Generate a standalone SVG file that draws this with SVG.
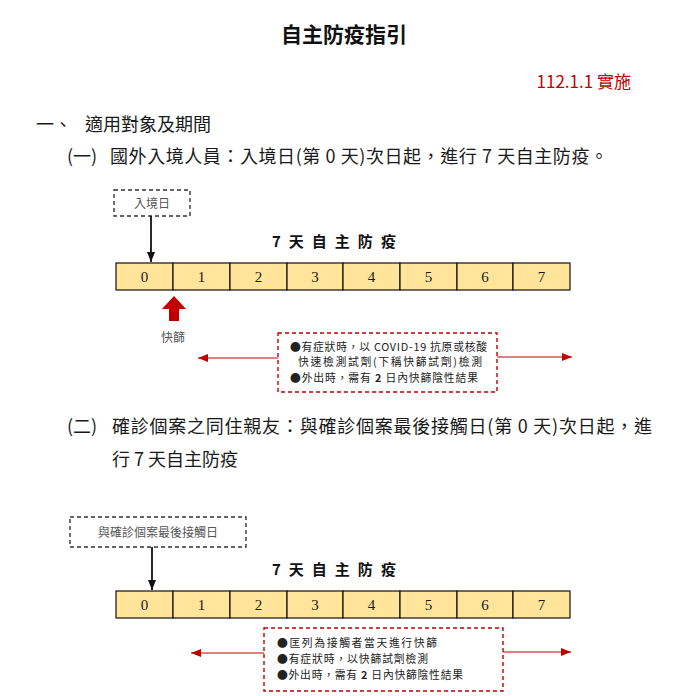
<svg xmlns="http://www.w3.org/2000/svg" width="687" height="696" viewBox="0 0 687 696" lang="zh-Hant-TW" xml:lang="zh-Hant-TW">
<defs>
<style>
.cjk{font-family:"Noto Sans CJK TC","Noto Sans CJK SC",sans-serif;}
.body{font-size:18px;fill:#1a1a1a;}
.small{font-size:12px;fill:#555;}
.note{font-size:10.8px;fill:#222;}
.num{font-family:"Liberation Serif","Times New Roman",serif;font-size:15px;fill:#1a1a1a;text-anchor:middle;}
.cell{fill:#FFE49A;stroke:#111;stroke-width:1.2;}
.dbox{fill:none;stroke:#333;stroke-width:1.4;stroke-dasharray:4 3;}
.rbox{fill:none;stroke:#c00000;stroke-width:1.4;stroke-dasharray:4 3;}
.black-line{stroke:#111;stroke-width:1.8;fill:none;}
.red-line{stroke:#c00000;stroke-width:1.1;fill:none;}
.seven{font-size:15px;font-weight:bold;fill:#111;letter-spacing:2.3px;}
</style>
<marker id="ah-black" viewBox="0 0 10 8" refX="10" refY="4" markerWidth="10" markerHeight="8" markerUnits="userSpaceOnUse" orient="auto"><path d="M0,0 L10,4 L0,8 z" fill="#111"/></marker>
<marker id="ah-red" viewBox="0 0 10 8" refX="10" refY="4" markerWidth="10" markerHeight="8" markerUnits="userSpaceOnUse" orient="auto"><path d="M0,0 L10,4 L0,8 z" fill="#c00000"/></marker>
</defs>
<rect width="687" height="696" fill="#ffffff"/>

<g id="title"><text class="cjk" x="344" y="42" font-size="21" font-weight="bold" fill="#111" text-anchor="middle">自主防疫指引</text></g>
<g id="date"><text class="cjk" x="631" y="88" font-size="17" fill="#c00000" text-anchor="end">112.1.1 實施</text></g>
<g id="heading">
<text class="cjk body" x="36" y="131">一、</text>
<text class="cjk body" x="85" y="131">適用對象及期間</text>
</g>
<g id="section1">
<text class="cjk body" x="67" y="163">(一)</text>
<text class="cjk body" x="110" y="163" textLength="498" lengthAdjust="spacing">國外入境人員：入境日(第 0 天)次日起，進行 7 天自主防疫。</text>
</g>

<g id="box-entry">
<rect class="dbox" x="114" y="190" width="76" height="26"/>
<text class="cjk small" x="152" y="208" text-anchor="middle">入境日</text>
</g>
<g id="label-7day-1"><text class="cjk seven" x="272" y="247">7 天 自 主 防 疫</text></g>
<g id="timeline1">
<rect class="cell" x="116" y="263" width="57" height="27"/>
<rect class="cell" x="173" y="263" width="57" height="27"/>
<rect class="cell" x="230" y="263" width="57" height="27"/>
<rect class="cell" x="287" y="263" width="56" height="27"/>
<rect class="cell" x="343" y="263" width="57" height="27"/>
<rect class="cell" x="400" y="263" width="57" height="27"/>
<rect class="cell" x="457" y="263" width="56" height="27"/>
<rect class="cell" x="513" y="263" width="57" height="27"/>
<text class="num" x="144.5" y="282">0</text>
<text class="num" x="201.5" y="282">1</text>
<text class="num" x="258.5" y="282">2</text>
<text class="num" x="315" y="282">3</text>
<text class="num" x="371.5" y="282">4</text>
<text class="num" x="428.5" y="282">5</text>
<text class="num" x="485" y="282">6</text>
<text class="num" x="541.5" y="282">7</text>
</g>
<g id="red-up-arrow"><polygon points="174,296 162,309 169,309 169,321 179,321 179,309 186,309" fill="#c00000"/></g>
<g id="label-kuaishai"><text class="cjk small" x="173" y="342" text-anchor="middle">快篩</text></g>
<g id="note1">
<rect class="rbox" x="278" y="333" width="219" height="59"/>
<text class="cjk note" x="290" y="350.5" textLength="197" lengthAdjust="spacing">●有症狀時，以 COVID-19 抗原或核酸</text>
<text class="cjk note" x="298" y="366.2" textLength="184" lengthAdjust="spacing">快速檢測試劑(下稱快篩試劑)檢測</text>
<text class="cjk note" x="290" y="381.9" textLength="188" lengthAdjust="spacing">●外出時，需有 <tspan font-weight="bold">2</tspan> 日內快篩陰性結果</text>
</g>

<g id="section2">
<text class="cjk body" x="67" y="433">(二)</text>
<text class="cjk body" x="112" y="433" textLength="540" lengthAdjust="spacing">確診個案之同住親友：與確診個案最後接觸日(第 0 天)次日起，進</text>
<text class="cjk body" x="112" y="466">行 7 天自主防疫</text>
</g>

<g id="box-contact">
<rect class="dbox" x="70" y="517" width="176" height="30"/>
<text class="cjk small" x="158" y="537" text-anchor="middle">與確診個案最後接觸日</text>
</g>
<g id="label-7day-2"><text class="cjk seven" x="272" y="575">7 天 自 主 防 疫</text></g>
<g id="timeline2">
<rect class="cell" x="116" y="591" width="57" height="27"/>
<rect class="cell" x="173" y="591" width="57" height="27"/>
<rect class="cell" x="230" y="591" width="57" height="27"/>
<rect class="cell" x="287" y="591" width="56" height="27"/>
<rect class="cell" x="343" y="591" width="57" height="27"/>
<rect class="cell" x="400" y="591" width="57" height="27"/>
<rect class="cell" x="457" y="591" width="56" height="27"/>
<rect class="cell" x="513" y="591" width="57" height="27"/>
<text class="num" x="144.5" y="610">0</text>
<text class="num" x="201.5" y="610">1</text>
<text class="num" x="258.5" y="610">2</text>
<text class="num" x="315" y="610">3</text>
<text class="num" x="371.5" y="610">4</text>
<text class="num" x="428.5" y="610">5</text>
<text class="num" x="485" y="610">6</text>
<text class="num" x="541.5" y="610">7</text>
</g>
<g id="note2">
<rect class="rbox" x="264" y="628" width="239" height="63"/>
<text class="cjk note" x="277" y="647" textLength="160" lengthAdjust="spacing">●匡列為接觸者當天進行快篩</text>
<text class="cjk note" x="277" y="663" textLength="151" lengthAdjust="spacing">●有症狀時，以快篩試劑檢測</text>
<text class="cjk note" x="277" y="679" textLength="186" lengthAdjust="spacing">●外出時，需有 <tspan font-weight="bold">2</tspan> 日內快篩陰性結果</text>
</g>

<g id="connectors">
<line class="black-line" x1="151" y1="216" x2="151" y2="262" marker-end="url(#ah-black)"/>
<line class="black-line" x1="152" y1="547" x2="152" y2="590" marker-end="url(#ah-black)"/>
<line class="red-line" x1="278" y1="358" x2="198" y2="358" marker-end="url(#ah-red)"/>
<line class="red-line" x1="497" y1="357" x2="572" y2="357" marker-end="url(#ah-red)"/>
<line class="red-line" x1="264" y1="653" x2="191" y2="653" marker-end="url(#ah-red)"/>
<line class="red-line" x1="503" y1="652" x2="571" y2="652" marker-end="url(#ah-red)"/>
</g>
</svg>
